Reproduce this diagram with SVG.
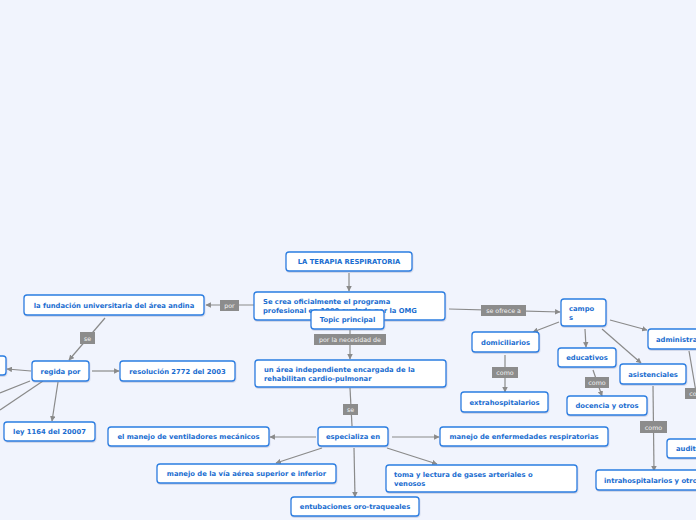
<svg xmlns="http://www.w3.org/2000/svg" width="696" height="520" viewBox="0 0 696 520">
<style>
.n rect{fill:#fff;stroke:#2a7de1;stroke-width:1.3;filter:url(#sh)}
.n text{font-family:"DejaVu Sans",Verdana,sans-serif;font-weight:bold;font-size:6.8px;fill:#1a6dd0}
.c{text-anchor:middle}
.e line,.e path{stroke:#8a8a8a;stroke-width:1.2;fill:none}
.a{marker-end:url(#ar)}
.l rect{fill:#8c8c8c}
.l text{font-family:"DejaVu Sans",Verdana,sans-serif;font-size:6.3px;fill:#f4f4f4;text-anchor:middle}
</style>
<defs>
<marker id="ar" viewBox="0 0 10 10" refX="9" refY="5" markerWidth="5.5" markerHeight="5.5" orient="auto" markerUnits="userSpaceOnUse">
<path d="M0,0 L10,5 L0,10 z" fill="#8a8a8a"/>
</marker>
<filter id="sh" x="-10%" y="-20%" width="120%" height="150%">
<feDropShadow dx="0.5" dy="1" stdDeviation="0.6" flood-color="#7a8bb0" flood-opacity="0.35"/>
</filter>
</defs>
<rect width="696" height="520" fill="#f1f4fd"/>

<g id="connectors" class="e">
<line class="a" x1="349" y1="273" x2="349" y2="291"/>
<line class="a" x1="254" y1="305" x2="206" y2="305"/>
<line class="a" x1="105" y1="318" x2="69" y2="360"/>
<line class="a" x1="92" y1="371" x2="119" y2="371"/>
<line class="a" x1="31" y1="371" x2="7" y2="369"/>
<line x1="30" y1="381" x2="0" y2="393"/>
<line x1="43" y1="381" x2="0" y2="410"/>
<line class="a" x1="58" y1="382" x2="52" y2="421"/>
<line class="a" x1="350" y1="330" x2="350" y2="359"/>
<line x1="350" y1="388" x2="352" y2="426"/>
<line class="a" x1="316" y1="437" x2="270" y2="437"/>
<line class="a" x1="392" y1="437" x2="439" y2="437"/>
<line class="a" x1="322" y1="448" x2="276" y2="463"/>
<line class="a" x1="387" y1="448" x2="437" y2="464"/>
<line class="a" x1="354" y1="448" x2="355" y2="497"/>
<line class="a" x1="449" y1="309" x2="560" y2="312"/>
<line class="a" x1="559" y1="322" x2="533" y2="332"/>
<line class="a" x1="505" y1="355" x2="505" y2="392"/>
<line class="a" x1="585" y1="329" x2="586" y2="347"/>
<line class="a" x1="593" y1="370" x2="602" y2="396"/>
<line class="a" x1="602" y1="329" x2="641" y2="363"/>
<line class="a" x1="653" y1="386" x2="654" y2="471"/>
<line class="a" x1="610" y1="320" x2="647" y2="330"/>
<line x1="689" y1="351" x2="696" y2="392"/>
</g>

<g id="labels" class="l">
<g><rect x="220" y="300" width="19" height="11"/><text x="229.5" y="308">por</text></g>
<g><rect x="80" y="332" width="15" height="12"/><text x="87.5" y="340.5">se</text></g>
<g><rect x="314" y="334" width="72" height="11"/><text x="350" y="342">por la necesidad de</text></g>
<g><rect x="343" y="404" width="15" height="11"/><text x="350.5" y="412">se</text></g>
<g><rect x="481" y="305" width="45" height="11"/><text x="503.5" y="313">se ofrece a</text></g>
<g><rect x="492" y="367" width="26" height="11"/><text x="505" y="375">como</text></g>
<g><rect x="585" y="377" width="24" height="11"/><text x="597" y="385">como</text></g>
<g><rect x="640" y="421" width="27" height="12"/><text x="653.5" y="429.5">como</text></g>
<g><rect x="685" y="388" width="26" height="11"/><text x="698" y="396">como</text></g>
</g>

<g id="n1" class="n"><rect x="286" y="252" width="126" height="19" rx="3"/><text class="c" x="349" y="264">LA TERAPIA RESPIRATORIA</text></g>
<g id="n2" class="n"><rect x="254" y="292" width="191" height="28" rx="3"/><text x="263" y="304">Se crea oficialmente el programa</text><text x="263" y="313">profesional en 1990 avalado por la OMG</text></g>
<g id="n3" class="n"><rect x="311" y="310" width="73" height="19" rx="3"/><text class="c" x="347.5" y="322">Topic principal</text></g>
<g id="n4" class="n"><rect x="24" y="295" width="180" height="20" rx="3"/><text class="c" x="114" y="307.5">la fundación universitaria del área andina</text></g>
<g id="n5" class="n"><rect x="32" y="361" width="57" height="20" rx="3"/><text class="c" x="60.5" y="373.5">regida por</text></g>
<g id="n6" class="n"><rect x="120" y="361" width="115" height="20" rx="3"/><text class="c" x="177.5" y="373.5">resolución 2772 del 2003</text></g>
<g id="n7" class="n"><rect x="-10" y="356" width="16" height="19" rx="3"/></g>
<g id="n8" class="n"><rect x="4" y="422" width="91" height="19" rx="3"/><text class="c" x="49.5" y="434">ley 1164 del 20007</text></g>
<g id="n9" class="n"><rect x="255" y="360" width="191" height="27" rx="3"/><text x="264" y="371.5">un área independiente encargada de la</text><text x="264" y="380.5">rehabilitan cardio-pulmonar</text></g>
<g id="n10" class="n"><rect x="318" y="427" width="70" height="19" rx="3"/><text class="c" x="353" y="439">especializa en</text></g>
<g id="n11" class="n"><rect x="108" y="427" width="161" height="19" rx="3"/><text class="c" x="188.5" y="439">el manejo de ventiladores mecánicos</text></g>
<g id="n12" class="n"><rect x="440" y="427" width="168" height="19" rx="3"/><text class="c" x="524" y="439">manejo de enfermedades respiratorias</text></g>
<g id="n13" class="n"><rect x="157" y="464" width="179" height="19" rx="3"/><text class="c" x="246.5" y="476">manejo de la vía aérea superior e inferior</text></g>
<g id="n14" class="n"><rect x="386" y="465" width="191" height="27" rx="3"/><text x="394" y="476.5">toma y lectura de gases arteriales o</text><text x="394" y="485.5">venosos</text></g>
<g id="n15" class="n"><rect x="291" y="497" width="128" height="19" rx="3"/><text class="c" x="355" y="509">entubaciones oro-traqueales</text></g>
<g id="n16" class="n"><rect x="561" y="299" width="45" height="27" rx="3"/><text x="569" y="311">campo</text><text x="569" y="320">s</text></g>
<g id="n17" class="n"><rect x="472" y="332" width="67" height="20" rx="3"/><text class="c" x="505.5" y="344.5">domiciliarios</text></g>
<g id="n18" class="n"><rect x="461" y="392" width="87" height="20" rx="3"/><text class="c" x="504.5" y="404.5">extrahospitalarios</text></g>
<g id="n19" class="n"><rect x="558" y="348" width="58" height="19" rx="3"/><text class="c" x="587" y="360">educativos</text></g>
<g id="n20" class="n"><rect x="567" y="396" width="80" height="19" rx="3"/><text class="c" x="607" y="408">docencia y otros</text></g>
<g id="n21" class="n"><rect x="620" y="364" width="66" height="20" rx="3"/><text class="c" x="653" y="376.5">asistenciales</text></g>
<g id="n22" class="n"><rect x="596" y="470" width="130" height="20" rx="3"/><text x="604" y="482.5">intrahospitalarios y otros</text></g>
<g id="n23" class="n"><rect x="648" y="329" width="80" height="20" rx="3"/><text x="656" y="341.5">administrativos</text></g>
<g id="n24" class="n"><rect x="667" y="439" width="60" height="19" rx="3"/><text x="676" y="451">auditoria</text></g>
</svg>
